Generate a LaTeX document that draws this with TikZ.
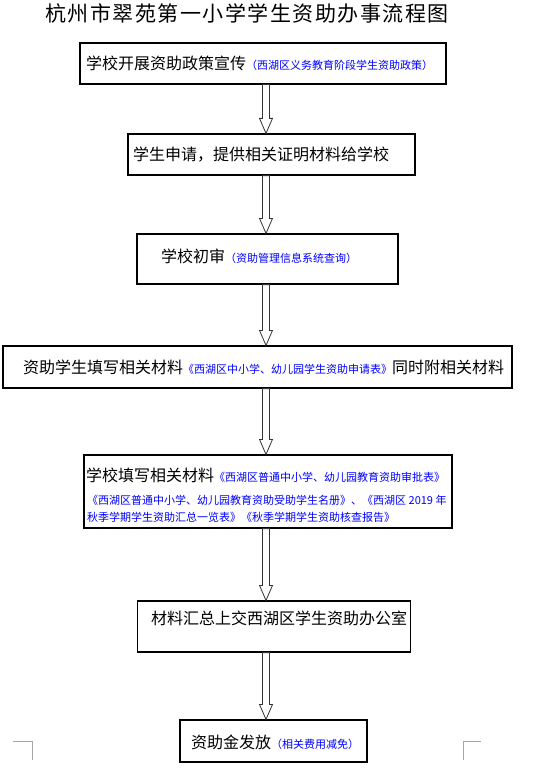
\documentclass[tikz,border=0pt]{standalone}
\usepackage{fontspec}
\setmainfont{Noto Sans CJK SC}
\newfontfamily\titlefont[LetterSpace=7]{Noto Sans CJK SC}
\usetikzlibrary{calc}
\newcommand\bluet[1]{{\color{blue}\fontsize{11}{12}\selectfont #1}}
\newcommand\hollowarrow[2]{%
  \draw[arr] let \p1=(#1), \p2=(#2) in
    (\x1-3.5pt,\y1) -- (\x1-3.5pt,\y2+15pt) -- (\x1-6.5pt,\y2+15pt) -- (\x1,\y2)
    -- (\x1+6.5pt,\y2+15pt) -- (\x1+3.5pt,\y2+15pt) -- (\x1+3.5pt,\y1) -- cycle;}
\begin{document}
\begin{tikzpicture}[x=1pt,y=-1pt,
  box/.style={draw=black,line width=1.2pt,inner sep=0pt,fill=white},
  txt/.style={inner sep=0pt,anchor=west,font=\fontsize{16}{18}\selectfont},
  bluetxt/.style={inner sep=0pt,anchor=west,font=\fontsize{11}{12}\selectfont\color{blue}},
  arr/.style={draw=black!80,line width=0.8pt,fill=white},
  cornermark/.style={draw=black!35,line width=0.9pt}]
\useasboundingbox (0,0) rectangle (537,773);
\fill[white] (0,0) rectangle (537,773);
\node[inner sep=0pt,font=\titlefont\fontsize{21}{24}\selectfont] (title) at (247,14) {杭州市翠苑第一小学学生资助办事流程图};
% boxes
\node[box,minimum width=366pt,minimum height=41pt] (b1) at (263,63.5) {};
\node[box,minimum width=287pt,minimum height=41pt] (b2) at (271.5,154.5) {};
\node[box,minimum width=261pt,minimum height=50pt] (b3) at (267.5,259) {};
\node[box,minimum width=509pt,minimum height=42pt] (b4) at (257.5,367) {};
\node[box,minimum width=368pt,minimum height=73pt] (b5) at (268,491.5) {};
\node[box,minimum width=273pt,minimum height=51pt] (b6) at (274,626.5) {};
\node[box,minimum width=187pt,minimum height=42pt] (b7) at (273.5,741) {};
% texts
\node[txt] (t1) at (86,63) {学校开展资助政策宣传\bluet{（西湖区义务教育阶段学生资助政策）}};
\node[txt] (t2) at (133,155) {学生申请，提供相关证明材料给学校};
\node[txt] (t3) at (161,256) {学校初审\bluet{（资助管理信息系统查询）}};
\node[txt] (t4) at (23,367) {资助学生填写相关材料\bluet{《西湖区中小学、幼儿园学生资助申请表》}同时附相关材料};
\node[txt] (t5a) at (86,475) {学校填写相关材料\bluet{《西湖区普通中小学、幼儿园教育资助审批表》}};
\node[bluetxt] (t5b) at (87,500) {《西湖区普通中小学、幼儿园教育资助受助学生名册》、《西湖区 2019 年};
\node[bluetxt] (t5c) at (87,517) {秋季学期学生资助汇总一览表》《秋季学期学生资助核查报告》};
\node[txt] (t6) at (151,618) {材料汇总上交西湖区学生资助办公室};
\node[txt] (t7) at (191,742) {资助金发放\bluet{（相关费用减免）}};
% arrows
\coordinate (ax) at (266,0);
\hollowarrow{ax |- b1.south}{ax |- b2.north}
\hollowarrow{ax |- b2.south}{ax |- b3.north}
\hollowarrow{ax |- b3.south}{ax |- b4.north}
\hollowarrow{ax |- b4.south}{ax |- b5.north}
\hollowarrow{ax |- b5.south}{ax |- b6.north}
\hollowarrow{ax |- b6.south}{ax |- b7.north}
% corner marks
\draw[cornermark] (13,741) -- (32,741) -- (32,760);
\draw[cornermark] (463,760) -- (463,741) -- (481,741);
\end{tikzpicture}
\end{document}
